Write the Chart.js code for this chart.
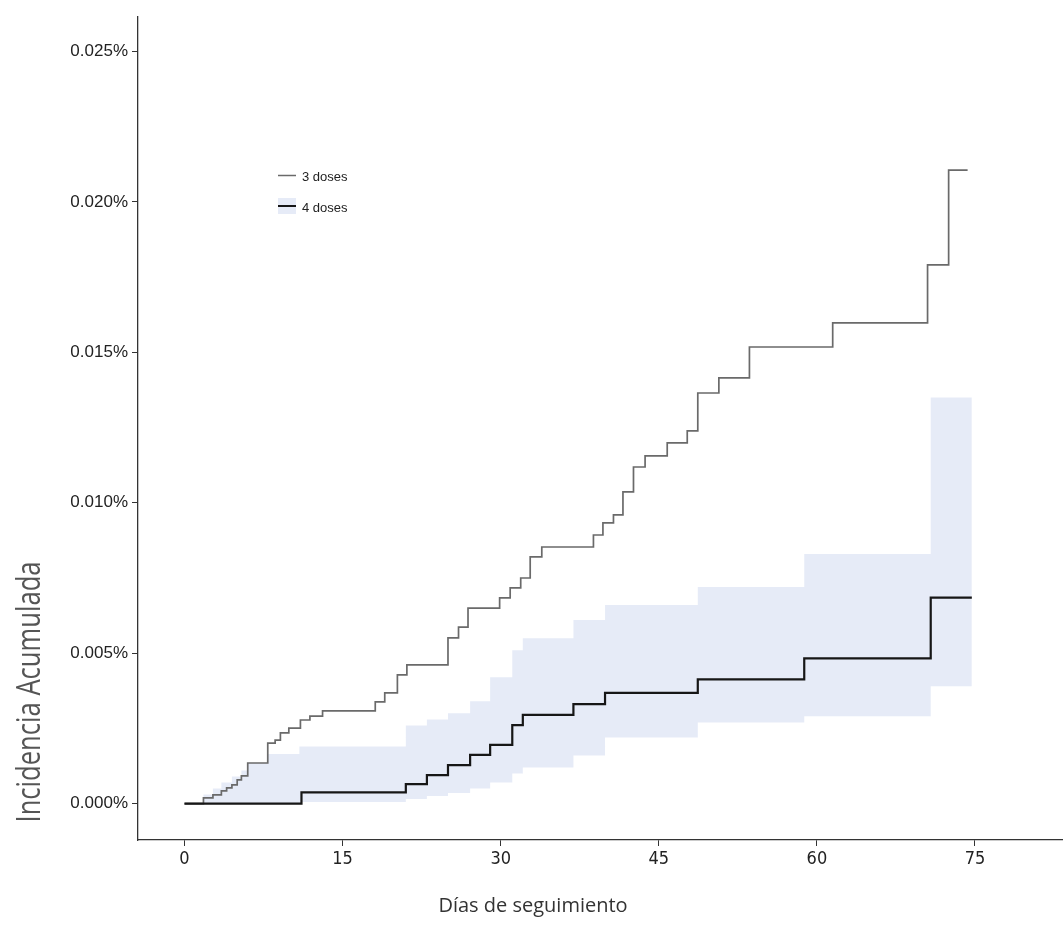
<!DOCTYPE html>
<html><head><meta charset="utf-8">
<style>html,body{margin:0;padding:0;background:#fff;} #wrap{position:relative;width:1063px;height:949px;} canvas{display:block;}</style>
<script src="https://cdn.jsdelivr.net/npm/chart.js@4.4.1/dist/chart.umd.min.js"></script>
</head><body><div id="wrap"><canvas id="c" width="1063" height="949"></canvas></div>
<script>
// ---- data (incidence in %) ----
const xTicks = [0, 15, 30, 45, 60, 75];
const yTicks = [0, 0.005, 0.010, 0.015, 0.020, 0.025];
const seriesNames = ['3 doses', '4 doses'];
const xTitle = 'Días de seguimiento';
const yTitle = 'Incidencia Acumulada';

const days3 = [0, 1.8, 2.7, 3.5, 4.0, 4.5, 5.0, 5.4, 6.0, 7.9, 8.6, 9.1, 9.9, 11.0, 11.9, 13.1, 18.1, 19.0, 20.2, 21.1, 25.0, 26.0, 26.9, 29.9, 30.9, 31.9, 32.8, 33.9, 38.8, 39.7, 40.7, 41.6, 42.6, 43.7, 45.8, 47.7, 48.7, 50.7, 53.6, 61.5, 70.5, 72.5, 74.3];
const inc3 = [0, 0.00019, 0.00029, 0.00042, 0.00052, 0.00062, 0.00079, 0.00092, 0.00135, 0.00201, 0.00211, 0.00235, 0.00251, 0.00278, 0.00291, 0.00308, 0.00338, 0.00368, 0.00428, 0.00461, 0.00551, 0.00587, 0.00650, 0.00684, 0.00717, 0.00750, 0.00820, 0.00853, 0.00893, 0.00933, 0.00960, 0.01036, 0.01119, 0.01156, 0.01199, 0.01239, 0.01365, 0.01415, 0.01518, 0.01598, 0.01791, 0.02106, 0.02106];

const days4 = [0, 11.1, 21.0, 23.0, 25.0, 27.1, 29.0, 31.1, 32.1, 36.9, 39.9, 48.7, 58.8, 70.8, 74.7];
const inc4 = [0, 0.00037, 0.00065, 0.00095, 0.00128, 0.00162, 0.00195, 0.00261, 0.00295, 0.00331, 0.00368, 0.00413, 0.00483, 0.00685, 0.00685];

const bandDays = [0, 1.8, 2.7, 3.5, 4.5, 5.4, 6.0, 7.9, 10.9, 11.1, 21.0, 23.0, 25.0, 27.1, 29.0, 31.1, 32.1, 36.9, 39.9, 48.7, 58.8, 70.8, 74.7];
const bandUpper = [0, 0.0003, 0.0005, 0.0007, 0.0009, 0.0011, 0.00135, 0.00165, 0.0019, 0.0019, 0.0026, 0.0028, 0.0030, 0.0034, 0.0042, 0.0051, 0.0055, 0.0061, 0.0066, 0.0072, 0.0083, 0.0135, 0.0135];
const bandLower = [0, 0, 0, 0, 0, 0, 0, 0, 0, 0.00005, 0.00015, 0.00025, 0.00035, 0.0005, 0.0007, 0.0010, 0.0012, 0.0016, 0.0022, 0.0027, 0.0029, 0.0039, 0.0039];

const pts = (xs, ys) => xs.map((x, i) => ({x: x, y: ys[i]}));

const bandColor = 'rgba(200, 210, 238, 0.45)';
const col3 = '#6a6a6a';
const col4 = '#161616';

const overlay = {
  id: 'overlay',
  afterDraw(chart) {
    const ctx = chart.ctx;
    ctx.save();
    // legend
    ctx.lineCap = 'butt';
    ctx.strokeStyle = col3; ctx.lineWidth = 1.5;
    ctx.beginPath(); ctx.moveTo(278, 175.5); ctx.lineTo(296, 175.5); ctx.stroke();
    ctx.fillStyle = bandColor; ctx.fillRect(278, 198, 18, 16);
    ctx.strokeStyle = col4; ctx.lineWidth = 2;
    ctx.beginPath(); ctx.moveTo(278, 206); ctx.lineTo(296, 206); ctx.stroke();
    ctx.fillStyle = '#222';
    ctx.font = '13px "Liberation Sans", Arial, sans-serif';
    ctx.textAlign = 'left'; ctx.textBaseline = 'middle';
    ctx.fillText(seriesNames[0], 302, 177);
    ctx.fillText(seriesNames[1], 302, 208);
    // x title
    ctx.fillStyle = '#333';
    ctx.font = '20px "Open Sans", sans-serif';
    ctx.textAlign = 'center';
    ctx.fillText(xTitle, 533, 906);
    // y title
    ctx.translate(31, 692);
    ctx.rotate(-Math.PI / 2);
    ctx.scale(0.8, 1);
    ctx.fillStyle = '#555';
    ctx.font = '32px "Open Sans", sans-serif';
    ctx.fillText(yTitle, 0, 0);
    ctx.restore();
  }
};

new Chart(document.getElementById('c'), {
  type: 'line',
  data: {
    datasets: [
      {label: 'upper', data: pts(bandDays, bandUpper), stepped: true, borderWidth: 0, pointRadius: 0, backgroundColor: bandColor, fill: '+1', order: 10},
      {label: 'lower', data: pts(bandDays, bandLower), stepped: true, borderWidth: 0, pointRadius: 0, fill: false, order: 10},
      {label: seriesNames[0], data: pts(days3, inc3), stepped: true, borderColor: col3, borderWidth: 1.7, pointRadius: 0, fill: false, order: 2},
      {label: seriesNames[1], data: pts(days4, inc4), stepped: true, borderColor: col4, borderWidth: 2.2, pointRadius: 0, fill: false, order: 1}
    ]
  },
  options: {
    responsive: false,
    animation: false,
    layout: {padding: {top: 17, right: 0, bottom: 0, left: 0}},
    plugins: {legend: {display: false}, tooltip: {enabled: false}},
    scales: {
      x: {
        type: 'linear', min: -4.41, max: 83.35,
        afterBuildTicks: s => { s.ticks = xTicks.map(v => ({value: v})); },
        afterFit: s => { s.height = 109; },
        grid: {display: true, drawOnChartArea: false, drawTicks: true, tickLength: 6, color: '#333'},
        border: {display: true, color: '#333', width: 1.3},
        ticks: {color: '#222', padding: 3, font: {family: '"Liberation Sans Narrow", "DejaVu Sans Condensed", "Liberation Sans", sans-serif', size: 18}, maxRotation: 0}
      },
      y: {
        type: 'linear', min: -0.00121, max: 0.02615,
        afterBuildTicks: s => { s.ticks = yTicks.map(v => ({value: v})); },
        afterFit: s => { s.width = 138; },
        grid: {display: true, drawOnChartArea: false, drawTicks: true, tickLength: 6, color: '#333'},
        border: {display: true, color: '#333', width: 1.3},
        ticks: {color: '#222', padding: 4, font: {family: '"Liberation Sans", Arial, sans-serif', size: 17},
          callback: v => v.toFixed(3) + '%'}
      }
    }
  },
  plugins: [overlay]
});
</script></body></html>
